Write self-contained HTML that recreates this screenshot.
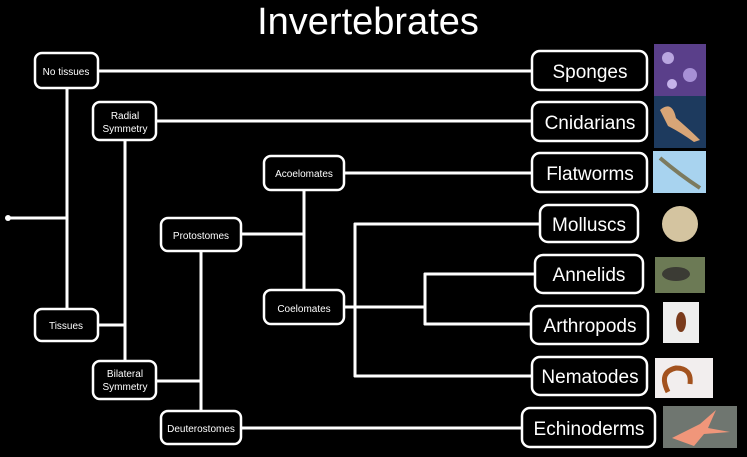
<!DOCTYPE html>
<html><head><style>
html,body{margin:0;padding:0;background:#000;}
svg{display:block}
text{font-family:"Liberation Sans",sans-serif;fill:#fff;}
</style></head><body>
<svg width="747" height="457" viewBox="0 0 747 457" xmlns="http://www.w3.org/2000/svg">
<rect width="747" height="457" fill="#000"/>
<text x="368" y="34" font-size="38" text-anchor="middle">Invertebrates</text>
<g stroke="#fff" stroke-width="3" fill="none" stroke-linecap="round">
<line x1="8" y1="218" x2="67" y2="218"/>
<line x1="67" y1="88" x2="67" y2="309"/>
<line x1="98" y1="71" x2="532" y2="71"/>
<line x1="156" y1="121" x2="532" y2="121"/>
<line x1="125" y1="140" x2="125" y2="361"/>
<line x1="98" y1="325" x2="125" y2="325"/>
<line x1="201" y1="251" x2="201" y2="411"/>
<line x1="156" y1="381" x2="201" y2="381"/>
<line x1="304" y1="190" x2="304" y2="290"/>
<line x1="241" y1="234" x2="304" y2="234"/>
<line x1="344" y1="173" x2="532" y2="173"/>
<line x1="344" y1="307" x2="425" y2="307"/>
<line x1="355" y1="224" x2="355" y2="376"/>
<line x1="355" y1="224" x2="540" y2="224"/>
<line x1="355" y1="376" x2="532" y2="376"/>
<line x1="425" y1="274" x2="425" y2="324"/>
<line x1="425" y1="274" x2="535" y2="274"/>
<line x1="425" y1="324" x2="531" y2="324"/>
<line x1="241" y1="428" x2="522" y2="428"/>
</g>
<circle cx="8" cy="218" r="3" fill="#fff"/>
<g stroke="#fff" stroke-width="2.5" fill="#000">
<rect x="35" y="53" width="63" height="35" rx="7"/>
<rect x="93" y="102" width="63" height="38" rx="7"/>
<rect x="264" y="156" width="80" height="34" rx="7"/>
<rect x="161" y="218" width="80" height="33" rx="7"/>
<rect x="264" y="290" width="80" height="34" rx="7"/>
<rect x="35" y="309" width="63" height="32" rx="7"/>
<rect x="93" y="361" width="63" height="38" rx="7"/>
<rect x="161" y="411" width="80" height="33" rx="7"/>
<rect x="532" y="51" width="115" height="39" rx="8"/>
<rect x="532" y="102" width="115" height="39" rx="8"/>
<rect x="532" y="153" width="115" height="39" rx="8"/>
<rect x="540" y="205" width="98" height="37" rx="8"/>
<rect x="535" y="255" width="108" height="38" rx="8"/>
<rect x="531" y="306" width="117" height="38" rx="8"/>
<rect x="532" y="357" width="115" height="38" rx="8"/>
<rect x="522" y="408" width="133" height="39" rx="8"/>
</g>
<g font-size="10" text-anchor="middle">
<text x="66" y="75">No tissues</text>
<text x="125" y="119">Radial</text>
<text x="125" y="132">Symmetry</text>
<text x="304" y="177">Acoelomates</text>
<text x="201" y="239">Protostomes</text>
<text x="304" y="312">Coelomates</text>
<text x="66" y="329">Tissues</text>
<text x="125" y="377">Bilateral</text>
<text x="125" y="390">Symmetry</text>
<text x="201" y="432">Deuterostomes</text>
</g>
<g font-size="19" text-anchor="middle">
<text x="590" y="78">Sponges</text>
<text x="590" y="129">Cnidarians</text>
<text x="590" y="180">Flatworms</text>
<text x="589" y="231">Molluscs</text>
<text x="589" y="281">Annelids</text>
<text x="590" y="332">Arthropods</text>
<text x="590" y="383">Nematodes</text>
<text x="589" y="435">Echinoderms</text>
</g>
<rect x="654" y="44" width="52" height="52" fill="#5a3f8a"/>
<circle cx="668" cy="58" r="6" fill="#b9a6e0"/><circle cx="690" cy="75" r="7" fill="#a790d6"/><circle cx="672" cy="84" r="5" fill="#c5b3ea"/>
<rect x="654" y="96" width="52" height="52" fill="#1d3a5e"/>
<path d="M660 110 Q672 100 676 118 Q690 130 700 140 L694 142 Q680 132 668 126 Z" fill="#d8a577"/>
<rect x="653" y="151" width="53" height="42" fill="#a8d3ef"/>
<path d="M660 158 Q680 175 700 188" stroke="#7c7a5e" stroke-width="4" fill="none"/>
<circle cx="680" cy="224" r="18" fill="#d4c4a0"/>
<rect x="655" y="257" width="50" height="36" fill="#6c7a55"/>
<ellipse cx="676" cy="274" rx="14" ry="7" fill="#3b3b34"/>
<rect x="663" y="302" width="36" height="41" fill="#eeeeee"/>
<ellipse cx="681" cy="322" rx="5" ry="10" fill="#7a3b1c"/>
<rect x="655" y="358" width="58" height="40" fill="#f2eeee"/>
<path d="M668 392 Q658 372 676 368 Q692 368 690 384" stroke="#a3521e" stroke-width="5" fill="none"/>
<rect x="663" y="406" width="74" height="42" fill="#6f7670"/>
<path d="M672 438 L700 424 L716 410 L708 428 L730 432 L704 434 L694 446 Z" fill="#f0967a"/>
</svg>
</body></html>
